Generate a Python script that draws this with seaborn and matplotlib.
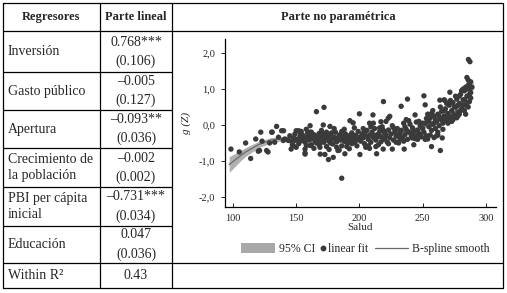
import numpy as np
import pandas as pd
import matplotlib
matplotlib.use("Agg")
import matplotlib.pyplot as plt
from matplotlib.lines import Line2D
from matplotlib.patches import Patch
import seaborn as sns

# --- table content ---
regresores = ["Inversión", "Gasto público", "Apertura",
              "Crecimiento de\nla población", "PBI per cápita\ninicial",
              "Educación", "Within R²"]
coeficientes = ["0.768***", "–0.005", "–0.093**", "–0.002", "–0.731***", "0.047", "0.43"]
errores = ["(0.106)", "(0.127)", "(0.036)", "(0.002)", "(0.034)", "(0.036)", ""]

# --- scatter points (Salud, g(Z)) ---
puntos_izq = [(98.4, -0.67), (105, -0.75), (110, -0.50), (114, -0.93), (118, -0.39),
              (120, -0.73), (122, -0.20), (123, -0.45), (126.6, -0.71), (127.7, -0.75),
              (129, -0.50), (130.6, -0.20), (133, -0.48), (134.5, -0.04), (136, -0.34),
              (138.5, -0.16), (139.8, -0.43), (141, -0.39), (143.7, -0.43), (146, -0.67),
              (147, -0.56), (149, -0.43), (150, -0.16), (153, -0.20), (157, -0.67),
              (157, -0.78), (158, -0.57), (161, -0.02), (161, -0.20), (162, -0.39),
              (161, -0.57), (131, -0.20), (121, -0.71)]

puntos_centro = [(145, -0.30), (146, -0.45), (148, -0.36), (149, -0.25), (151, -0.40),
                 (152, -0.52), (153, -0.31), (154, -0.44), (155, -0.28), (156, -0.38),
                 (157, -0.48), (158, -0.34), (159, -0.22), (160, -0.42), (161, -0.31),
                 (162, -0.55), (163, -0.37), (164, -0.27), (165, -0.46), (166, -0.33),
                 (167, -0.40), (168, -0.24), (169, -0.51), (170, -0.35), (171, -0.43),
                 (172, -0.29), (173, -0.38), (174, -0.60), (175, -0.32), (176, -0.45),
                 (177, -0.26), (178, -0.40), (179, -0.53), (180, -0.34), (181, -0.20),
                 (182, -0.47), (183, -0.36), (184, -0.28), (185, -0.42), (186, -0.58),
                 (187, -0.33), (188, -0.45), (189, -0.25), (190, -0.38), (191, -0.50),
                 (192, -0.31), (193, -0.42), (194, -0.22), (195, -0.36), (196, -0.48),
                 (197, -0.29), (198, -0.40), (199, -0.18), (200, -0.34),
                 (150, -0.62), (158, -0.12), (164, -0.65), (170, -0.15), (176, -0.68),
                 (180, -0.10), (184, -0.70), (188, -0.12), (192, -0.66), (196, -0.08),
                 (168, -0.55), (178, -0.22), (182, -0.62), (186, -0.18), (190, -0.60),
                 (194, -0.52), (198, -0.58), (172, -0.48), (162, -0.20), (154, -0.18),
                 (166, 0.37), (172, 0.49), (171.4, 0.00), (176.7, -0.04), (168.8, -0.62),
                 (172.7, -0.82), (175.5, -0.96), (179.3, -0.90), (183, -0.71), (188.5, -0.80),
                 (186, -1.48), (192.5, 0.12), (195, 0.06), (169, -0.81), (157, -0.81),
                 (147.7, -0.57), (152, -0.16), (140, -0.16),
                 (174, -0.20), (181, -0.40), (185, -0.30), (189, -0.47), (193, -0.28),
                 (197, -0.44), (160, -0.30), (166, -0.50), (171, -0.25), (177, -0.50)]

puntos_medio = [(201, -0.45), (202, -0.25), (203, -0.36), (204, -0.52), (205, -0.30),
                (206, -0.15), (207, -0.40), (208, -0.28), (209, -0.48), (210, -0.20),
                (211, -0.35), (212, -0.10), (213, -0.42), (214, -0.27), (215, -0.55),
                (216, -0.18), (217, -0.33), (218, -0.05), (219, -0.40), (220, -0.22),
                (221, -0.30), (222, -0.48), (223, -0.14), (224, -0.36), (225, -0.25),
                (226, -0.02), (227, -0.42), (228, -0.20), (229, -0.31), (230, -0.10),
                (231, -0.50), (232, -0.23), (233, -0.15), (234, -0.35), (235, 0.05),
                (236, -0.27), (237, -0.12), (238, -0.40), (239, -0.20), (240, 0.02),
                (241, -0.30), (242, -0.08), (243, -0.18), (244, -0.38), (245, 0.08),
                (246, -0.15), (247, -0.25), (248, -0.02), (249, -0.33), (250, -0.10),
                (203, -0.10), (207, -0.58), (211, 0.05), (215, -0.32), (219, -0.15),
                (223, -0.52), (227, -0.08), (231, -0.28), (235, -0.45), (239, 0.12),
                (243, -0.55), (247, 0.10), (205, -0.62), (213, -0.60), (221, 0.10),
                (229, -0.48), (237, 0.15), (245, -0.30), (209, -0.05), (217, -0.47),
                (200, 0.31), (210.7, 0.28), (208, 0.05), (217, 0.09), (222.8, 0.19),
                (219, 0.65), (224, 0.24), (233, 0.52), (238, 0.72), (244, 0.28),
                (200.4, -0.82), (208, -0.65), (213.6, -0.80), (218.8, -0.67), (226, -0.67),
                (235.4, -0.67), (241.7, -0.36), (248, -0.25),
                (204, -0.20), (212, -0.30), (220, -0.38), (228, -0.12), (236, -0.05),
                (242, -0.22), (246, -0.40), (250, 0.05), (232, -0.38), (216, -0.08)]

puntos_der = [(251, -0.20), (252, 0.05), (253, -0.30), (254, 0.12), (255, -0.05),
              (256, 0.20), (257, -0.15), (258, 0.02), (259, 0.25), (260, -0.10),
              (261, 0.10), (262, 0.30), (263, -0.02), (264, 0.18), (265, 0.38),
              (266, 0.05), (267, 0.25), (268, 0.45), (269, 0.12), (270, 0.32),
              (271, 0.55), (272, 0.20), (273, 0.40), (274, 0.62), (275, 0.28),
              (252, -0.40), (254, 0.30), (256, -0.28), (258, 0.40), (260, 0.15),
              (262, -0.20), (264, 0.50), (266, -0.12), (268, 0.20), (270, 0.05),
              (272, 0.68), (274, 0.15), (253, 0.18), (257, 0.32), (261, -0.30),
              (265, 0.15), (269, 0.60), (273, 0.10), (259, -0.35), (267, 0.70),
              (251, 0.81), (252, 0.56), (271.5, 0.91), (267.6, 0.68), (263.6, 0.69),
              (257, -0.60), (264, -0.71), (265.5, -0.36), (254, -0.39), (262, -0.28),
              (276, 0.50), (277, 0.72), (278, 0.35), (279, 0.60), (280, 0.85),
              (281, 0.45), (282, 0.70), (283, 0.95), (284, 0.55), (285, 0.80),
              (286, 1.10), (287, 0.65), (288, 0.90), (286, 1.25), (285, 1.32),
              (287, 1.15), (284, 1.05), (283, 0.40), (281, 0.95), (279, 0.30),
              (277, 0.20), (276, 0.80), (278, 0.55), (280, 0.40), (282, 1.00),
              (284, 0.30), (286, 0.50), (288, 1.20), (287, 1.00), (285, 0.60),
              (283, 0.70), (289, 1.05), (288, 0.75), (280.8, 0.95), (278, 0.26),
              (287.4, 1.76), (286.2, 1.82),
              (255, 0.10), (259, 0.05), (263, 0.25), (267, 0.40), (271, 0.25),
              (275, 0.50), (279, 0.80), (282, 0.55), (285, 1.00), (287, 0.85)]

# --- B-spline smooth and its 95% CI ---
spline_x = [97, 105, 110, 120, 130, 145, 160, 180, 200, 220, 240, 260, 275, 285, 290]
spline_y = [-1.10, -0.88, -0.75, -0.55, -0.42, -0.35, -0.35, -0.38, -0.35, -0.25, -0.15, 0.05, 0.35, 0.80, 1.10]
ci_half = [0.22, 0.15, 0.12, 0.09, 0.07, 0.05, 0.05, 0.05, 0.05, 0.05, 0.05, 0.05, 0.06, 0.08, 0.10]

x_ticks = [100, 150, 200, 250, 300]
y_ticks = [2, 1, 0, -1, -2]
y_ticklabels = ["2,0", "1,0", "0,0", "-1,0", "-2,0"]

df = pd.DataFrame(puntos_izq + puntos_centro + puntos_medio + puntos_der, columns=["salud", "gz"])

sns.set_theme(style="white")
plt.rcParams["font.family"] = ["Liberation Serif", "DejaVu Serif"]

W, H = 507, 293
fig = plt.figure(figsize=(W / 100, H / 100), dpi=100)

# table drawn in pixel coordinates
tab = fig.add_axes([0, 0, 1, 1])
tab.set_xlim(0, W)
tab.set_ylim(H, 0)
tab.axis("off")

lw = 0.9
tab.plot([3, 503, 503, 3, 3], [3, 3, 288, 288, 3], color="black", lw=lw)
tab.plot([100, 100], [3, 288], color="black", lw=lw)
tab.plot([172, 172], [3, 288], color="black", lw=lw)
tab.plot([3, 503], [31, 31], color="black", lw=lw)
tab.plot([3, 503], [263, 263], color="black", lw=lw)
for yy in [72, 110, 148, 187, 226]:
    tab.plot([3, 172], [yy, yy], color="black", lw=lw)

tab.text(51, 17, "Regresores", ha="center", va="center", fontsize=9, fontweight="bold")
tab.text(136, 17, "Parte lineal", ha="center", va="center", fontsize=9, fontweight="bold")
tab.text(338, 17, "Parte no paramétrica", ha="center", va="center", fontsize=9, fontweight="bold")

row_tops = [31, 72, 110, 148, 187, 226, 263]
row_bots = [72, 110, 148, 187, 226, 263, 288]
for lab, coef, err, top, bot in zip(regresores, coeficientes, errores, row_tops, row_bots):
    mid = (top + bot) / 2
    tab.text(8, mid, lab, ha="left", va="center", fontsize=10, linespacing=1.35)
    if err:
        tab.text(136, mid - 9.5, coef, ha="center", va="center", fontsize=10)
        tab.text(136, mid + 9.5, err, ha="center", va="center", fontsize=10)
    else:
        tab.text(136, mid, coef, ha="center", va="center", fontsize=10)

# scatter panel
ax = fig.add_axes([225 / W, (H - 207) / H, (496 - 225) / W, (207 - 39) / H])
lo = [y - h for y, h in zip(spline_y, ci_half)]
hi = [y + h for y, h in zip(spline_y, ci_half)]
ax.fill_between(spline_x, lo, hi, color="#a8a8a8", alpha=0.9, lw=0, zorder=1)
sns.lineplot(x=spline_x, y=spline_y, ax=ax, color="#6a6a6a", lw=0.9, zorder=2)
sns.scatterplot(data=df, x="salud", y="gz", ax=ax, color="#3a3a3a", s=15,
                edgecolor="none", zorder=3)

ax.set_xlim(93.7, 308)
ax.set_ylim(-2.28, 2.39)
ax.set_xticks(x_ticks)
ax.set_yticks(y_ticks)
ax.set_yticklabels(y_ticklabels)
ax.tick_params(axis="x", direction="in", length=3, width=0.6, labelsize=7.5, pad=5, color="black")
ax.tick_params(axis="y", direction="out", length=3, width=0.6, labelsize=7.5, pad=4, color="black")
ax.tick_params(left=True, bottom=True)
for side in ["top", "right"]:
    ax.spines[side].set_visible(False)
for side in ["left", "bottom"]:
    ax.spines[side].set_color("black")
    ax.spines[side].set_linewidth(0.9)
ax.set_xlabel("Salud", fontsize=8, labelpad=0)
ax.set_ylabel("g (Z)", fontsize=8, fontstyle="italic", labelpad=6)
ax.set_facecolor("none")

# legend items, one small legend each so the handle widths can differ
leg_y = (H - 249) / H
items = [
    (Patch(facecolor="#a8a8a8", edgecolor="none"), "95% CI", 241, 2.9, 0.35),
    (Line2D([], [], marker="o", ls="none", color="#3a3a3a", markersize=3.2), "linear fit", 320, 0.5, 0.2),
    (Line2D([], [], color="#6a6a6a", lw=0.9), "B-spline smooth", 375, 2.8, 0.35),
]
for handle, label, x0, hl, pad in items:
    leg = fig.legend([handle], [label], loc="center left", bbox_to_anchor=(x0 / W, leg_y),
                     frameon=False, fontsize=8.5, handlelength=hl, handleheight=0.9,
                     handletextpad=pad, borderpad=0, borderaxespad=0)

fig.savefig("out.png", dpi=100)
